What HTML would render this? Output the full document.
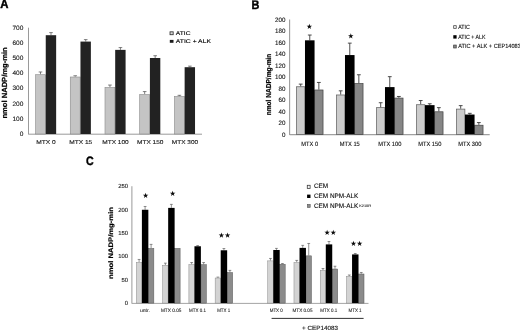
<!DOCTYPE html>
<html><head><meta charset="utf-8"><title>Figure</title>
<style>
html,body{margin:0;padding:0;background:#fff;}
body{width:520px;height:330px;overflow:hidden;}
svg{display:block;}
svg text{font-family:"Liberation Sans",sans-serif;text-rendering:geometricPrecision;}
</style></head><body>
<svg width="520" height="330" viewBox="0 0 520 330">
<defs><filter id="soft" x="0" y="0" width="520" height="330" filterUnits="userSpaceOnUse"><feGaussianBlur stdDeviation="0.38"/></filter></defs>
<rect x="0" y="0" width="520" height="330" fill="#ffffff"/>
<g filter="url(#soft)">
<rect x="0" y="0" width="520" height="330" fill="#ffffff"/>
<text transform="translate(0.20 8.40) scale(0.9157 1)" font-size="12.4" font-weight="bold" fill="#000" text-anchor="start" stroke="#000" stroke-width="0.45" stroke-linejoin="round">A</text>
<line x1="28.50" y1="27.70" x2="28.50" y2="134.40" stroke="#808080" stroke-width="0.8"/>
<line x1="28.50" y1="134.20" x2="202.00" y2="134.20" stroke="#808080" stroke-width="0.8"/>
<text transform="translate(23.40 136.07) scale(1.0400 1)" font-size="6.3" font-weight="normal" fill="#1a1a1a" text-anchor="end" stroke="#1a1a1a" stroke-width="0.12" stroke-linejoin="round">0</text>
<text transform="translate(23.40 120.87) scale(1.0400 1)" font-size="6.3" font-weight="normal" fill="#1a1a1a" text-anchor="end" stroke="#1a1a1a" stroke-width="0.12" stroke-linejoin="round">100</text>
<text transform="translate(23.40 105.67) scale(1.0400 1)" font-size="6.3" font-weight="normal" fill="#1a1a1a" text-anchor="end" stroke="#1a1a1a" stroke-width="0.12" stroke-linejoin="round">200</text>
<text transform="translate(23.40 90.47) scale(1.0400 1)" font-size="6.3" font-weight="normal" fill="#1a1a1a" text-anchor="end" stroke="#1a1a1a" stroke-width="0.12" stroke-linejoin="round">300</text>
<text transform="translate(23.40 75.27) scale(1.0400 1)" font-size="6.3" font-weight="normal" fill="#1a1a1a" text-anchor="end" stroke="#1a1a1a" stroke-width="0.12" stroke-linejoin="round">400</text>
<text transform="translate(23.40 60.07) scale(1.0400 1)" font-size="6.3" font-weight="normal" fill="#1a1a1a" text-anchor="end" stroke="#1a1a1a" stroke-width="0.12" stroke-linejoin="round">500</text>
<text transform="translate(23.40 44.87) scale(1.0400 1)" font-size="6.3" font-weight="normal" fill="#1a1a1a" text-anchor="end" stroke="#1a1a1a" stroke-width="0.12" stroke-linejoin="round">600</text>
<text transform="translate(23.40 29.67) scale(1.0400 1)" font-size="6.3" font-weight="normal" fill="#1a1a1a" text-anchor="end" stroke="#1a1a1a" stroke-width="0.12" stroke-linejoin="round">700</text>
<line x1="40.50" y1="74.42" x2="40.50" y2="71.98" stroke="#4a4a4a" stroke-width="0.7"/>
<line x1="38.70" y1="71.98" x2="42.30" y2="71.98" stroke="#4a4a4a" stroke-width="0.7"/>
<line x1="51.00" y1="35.20" x2="51.00" y2="32.62" stroke="#4a4a4a" stroke-width="0.7"/>
<line x1="49.20" y1="32.62" x2="52.80" y2="32.62" stroke="#4a4a4a" stroke-width="0.7"/>
<rect x="35.55" y="74.72" width="9.90" height="59.28" fill="#c4c4c4" stroke="#8a8a8a" stroke-width="0.6"/>
<rect x="45.75" y="35.20" width="10.40" height="98.80" fill="#232323"/>
<text transform="translate(46.06 143.83) scale(1.1824 1)" font-size="5.6" font-weight="normal" fill="#1a1a1a" text-anchor="middle" stroke="#1a1a1a" stroke-width="0.12" stroke-linejoin="round">MTX 0</text>
<line x1="75.22" y1="76.70" x2="75.22" y2="75.78" stroke="#4a4a4a" stroke-width="0.7"/>
<line x1="73.42" y1="75.78" x2="77.02" y2="75.78" stroke="#4a4a4a" stroke-width="0.7"/>
<line x1="85.72" y1="41.58" x2="85.72" y2="39.61" stroke="#4a4a4a" stroke-width="0.7"/>
<line x1="83.92" y1="39.61" x2="87.52" y2="39.61" stroke="#4a4a4a" stroke-width="0.7"/>
<rect x="70.27" y="77.00" width="9.90" height="57.00" fill="#c4c4c4" stroke="#8a8a8a" stroke-width="0.6"/>
<rect x="80.47" y="41.58" width="10.40" height="92.42" fill="#232323"/>
<text transform="translate(80.78 143.83) scale(1.1731 1)" font-size="5.6" font-weight="normal" fill="#1a1a1a" text-anchor="middle" stroke="#1a1a1a" stroke-width="0.12" stroke-linejoin="round">MTX 15</text>
<line x1="109.94" y1="87.18" x2="109.94" y2="85.06" stroke="#4a4a4a" stroke-width="0.7"/>
<line x1="108.14" y1="85.06" x2="111.74" y2="85.06" stroke="#4a4a4a" stroke-width="0.7"/>
<line x1="120.44" y1="49.87" x2="120.44" y2="47.59" stroke="#4a4a4a" stroke-width="0.7"/>
<line x1="118.64" y1="47.59" x2="122.24" y2="47.59" stroke="#4a4a4a" stroke-width="0.7"/>
<rect x="104.99" y="87.48" width="9.90" height="46.52" fill="#c4c4c4" stroke="#8a8a8a" stroke-width="0.6"/>
<rect x="115.19" y="49.87" width="10.40" height="84.13" fill="#232323"/>
<text transform="translate(115.50 143.83) scale(1.1663 1)" font-size="5.6" font-weight="normal" fill="#1a1a1a" text-anchor="middle" stroke="#1a1a1a" stroke-width="0.12" stroke-linejoin="round">MTX 100</text>
<line x1="144.66" y1="94.18" x2="144.66" y2="91.59" stroke="#4a4a4a" stroke-width="0.7"/>
<line x1="142.86" y1="91.59" x2="146.46" y2="91.59" stroke="#4a4a4a" stroke-width="0.7"/>
<line x1="155.16" y1="58.00" x2="155.16" y2="55.72" stroke="#4a4a4a" stroke-width="0.7"/>
<line x1="153.36" y1="55.72" x2="156.96" y2="55.72" stroke="#4a4a4a" stroke-width="0.7"/>
<rect x="139.71" y="94.48" width="9.90" height="39.52" fill="#c4c4c4" stroke="#8a8a8a" stroke-width="0.6"/>
<rect x="149.91" y="58.00" width="10.40" height="76.00" fill="#232323"/>
<text transform="translate(150.22 143.83) scale(1.1663 1)" font-size="5.6" font-weight="normal" fill="#1a1a1a" text-anchor="middle" stroke="#1a1a1a" stroke-width="0.12" stroke-linejoin="round">MTX 150</text>
<line x1="179.38" y1="96.23" x2="179.38" y2="95.32" stroke="#4a4a4a" stroke-width="0.7"/>
<line x1="177.58" y1="95.32" x2="181.18" y2="95.32" stroke="#4a4a4a" stroke-width="0.7"/>
<line x1="189.88" y1="67.20" x2="189.88" y2="66.13" stroke="#4a4a4a" stroke-width="0.7"/>
<line x1="188.08" y1="66.13" x2="191.68" y2="66.13" stroke="#4a4a4a" stroke-width="0.7"/>
<rect x="174.43" y="96.53" width="9.90" height="37.47" fill="#c4c4c4" stroke="#8a8a8a" stroke-width="0.6"/>
<rect x="184.63" y="67.20" width="10.40" height="66.80" fill="#232323"/>
<text transform="translate(184.94 143.83) scale(1.1575 1)" font-size="5.6" font-weight="normal" fill="#1a1a1a" text-anchor="middle" stroke="#1a1a1a" stroke-width="0.12" stroke-linejoin="round">MTX 300</text>
<text transform="translate(6.70 82.95) rotate(-90) scale(1.0262 1)" font-size="7.4" font-weight="bold" fill="#000" text-anchor="middle" stroke="#000" stroke-width="0.22" stroke-linejoin="round">nmol NADP/mg-min</text>
<rect x="170.03" y="31.82" width="3.15" height="2.88" fill="#d8d8d8" stroke="#333" stroke-width="0.85"/>
<text transform="translate(175.80 34.66) scale(1.2353 1)" font-size="5.4" font-weight="normal" fill="#000" text-anchor="start" stroke="#000" stroke-width="0.12" stroke-linejoin="round">ATIC</text>
<rect x="169.80" y="39.90" width="3.70" height="2.90" fill="#1c1c1c"/>
<text transform="translate(175.80 43.01) scale(1.2588 1)" font-size="5.4" font-weight="normal" fill="#000" text-anchor="start" stroke="#000" stroke-width="0.12" stroke-linejoin="round">ATIC + ALK</text>
<text transform="translate(251.50 8.60) scale(0.8751 1)" font-size="12.5" font-weight="bold" fill="#000" text-anchor="start" stroke="#000" stroke-width="0.4" stroke-linejoin="round">B</text>
<line x1="289.60" y1="19.40" x2="289.60" y2="135.10" stroke="#9c9c9c" stroke-width="1.1"/>
<line x1="289.60" y1="134.65" x2="489.70" y2="134.65" stroke="#a0a0a0" stroke-width="1.2"/>
<text transform="translate(285.45 136.54) scale(0.9550 1)" font-size="6.5" font-weight="normal" fill="#111" text-anchor="end" stroke="#111" stroke-width="0.12" stroke-linejoin="round">0</text>
<text transform="translate(285.45 125.06) scale(0.9550 1)" font-size="6.5" font-weight="normal" fill="#111" text-anchor="end" stroke="#111" stroke-width="0.12" stroke-linejoin="round">20</text>
<text transform="translate(285.45 113.58) scale(0.9550 1)" font-size="6.5" font-weight="normal" fill="#111" text-anchor="end" stroke="#111" stroke-width="0.12" stroke-linejoin="round">40</text>
<text transform="translate(285.45 102.10) scale(0.9550 1)" font-size="6.5" font-weight="normal" fill="#111" text-anchor="end" stroke="#111" stroke-width="0.12" stroke-linejoin="round">60</text>
<text transform="translate(285.45 90.62) scale(0.9550 1)" font-size="6.5" font-weight="normal" fill="#111" text-anchor="end" stroke="#111" stroke-width="0.12" stroke-linejoin="round">80</text>
<text transform="translate(285.45 79.14) scale(0.9550 1)" font-size="6.5" font-weight="normal" fill="#111" text-anchor="end" stroke="#111" stroke-width="0.12" stroke-linejoin="round">100</text>
<text transform="translate(285.45 67.66) scale(0.9550 1)" font-size="6.5" font-weight="normal" fill="#111" text-anchor="end" stroke="#111" stroke-width="0.12" stroke-linejoin="round">120</text>
<text transform="translate(285.45 56.18) scale(0.9550 1)" font-size="6.5" font-weight="normal" fill="#111" text-anchor="end" stroke="#111" stroke-width="0.12" stroke-linejoin="round">140</text>
<text transform="translate(285.45 44.70) scale(0.9550 1)" font-size="6.5" font-weight="normal" fill="#111" text-anchor="end" stroke="#111" stroke-width="0.12" stroke-linejoin="round">160</text>
<text transform="translate(285.45 33.22) scale(0.9550 1)" font-size="6.5" font-weight="normal" fill="#111" text-anchor="end" stroke="#111" stroke-width="0.12" stroke-linejoin="round">180</text>
<text transform="translate(285.45 21.74) scale(0.9550 1)" font-size="6.5" font-weight="normal" fill="#111" text-anchor="end" stroke="#111" stroke-width="0.12" stroke-linejoin="round">200</text>
<line x1="300.69" y1="86.41" x2="300.69" y2="84.12" stroke="#3a3a3a" stroke-width="0.9"/>
<line x1="298.79" y1="84.12" x2="302.59" y2="84.12" stroke="#3a3a3a" stroke-width="0.9"/>
<line x1="309.77" y1="40.32" x2="309.77" y2="35.04" stroke="#3a3a3a" stroke-width="0.9"/>
<line x1="307.87" y1="35.04" x2="311.67" y2="35.04" stroke="#3a3a3a" stroke-width="0.9"/>
<line x1="318.85" y1="89.63" x2="318.85" y2="82.45" stroke="#3a3a3a" stroke-width="0.9"/>
<line x1="316.95" y1="82.45" x2="320.75" y2="82.45" stroke="#3a3a3a" stroke-width="0.9"/>
<rect x="296.50" y="86.76" width="8.38" height="47.64" fill="#cbcbcb" stroke="#5c5c5c" stroke-width="0.7"/>
<rect x="314.66" y="89.98" width="8.38" height="44.42" fill="#868686" stroke="#404040" stroke-width="0.7"/>
<rect x="304.98" y="40.32" width="9.58" height="94.08" fill="#000"/>
<text transform="translate(309.75 146.13) scale(0.9250 1)" font-size="6.2" font-weight="normal" fill="#111" text-anchor="middle" stroke="#111" stroke-width="0.12" stroke-linejoin="round">MTX 0</text>
<line x1="340.69" y1="94.62" x2="340.69" y2="90.83" stroke="#3a3a3a" stroke-width="0.9"/>
<line x1="338.79" y1="90.83" x2="342.59" y2="90.83" stroke="#3a3a3a" stroke-width="0.9"/>
<line x1="349.77" y1="55.07" x2="349.77" y2="43.13" stroke="#3a3a3a" stroke-width="0.9"/>
<line x1="347.87" y1="43.13" x2="351.67" y2="43.13" stroke="#3a3a3a" stroke-width="0.9"/>
<line x1="358.85" y1="83.26" x2="358.85" y2="74.76" stroke="#3a3a3a" stroke-width="0.9"/>
<line x1="356.95" y1="74.76" x2="360.75" y2="74.76" stroke="#3a3a3a" stroke-width="0.9"/>
<rect x="336.50" y="94.97" width="8.38" height="39.43" fill="#cbcbcb" stroke="#5c5c5c" stroke-width="0.7"/>
<rect x="354.66" y="83.61" width="8.38" height="50.79" fill="#868686" stroke="#404040" stroke-width="0.7"/>
<rect x="344.98" y="55.07" width="9.58" height="79.33" fill="#000"/>
<text transform="translate(349.75 146.13) scale(0.9250 1)" font-size="6.2" font-weight="normal" fill="#111" text-anchor="middle" stroke="#111" stroke-width="0.12" stroke-linejoin="round">MTX 15</text>
<line x1="380.69" y1="107.31" x2="380.69" y2="102.72" stroke="#3a3a3a" stroke-width="0.9"/>
<line x1="378.79" y1="102.72" x2="382.59" y2="102.72" stroke="#3a3a3a" stroke-width="0.9"/>
<line x1="389.77" y1="87.10" x2="389.77" y2="76.66" stroke="#3a3a3a" stroke-width="0.9"/>
<line x1="387.87" y1="76.66" x2="391.67" y2="76.66" stroke="#3a3a3a" stroke-width="0.9"/>
<line x1="398.85" y1="97.72" x2="398.85" y2="96.46" stroke="#3a3a3a" stroke-width="0.9"/>
<line x1="396.95" y1="96.46" x2="400.75" y2="96.46" stroke="#3a3a3a" stroke-width="0.9"/>
<rect x="376.50" y="107.66" width="8.38" height="26.74" fill="#cbcbcb" stroke="#5c5c5c" stroke-width="0.7"/>
<rect x="394.66" y="98.07" width="8.38" height="36.33" fill="#868686" stroke="#404040" stroke-width="0.7"/>
<rect x="384.98" y="87.10" width="9.58" height="47.30" fill="#000"/>
<text transform="translate(389.75 146.13) scale(0.9250 1)" font-size="6.2" font-weight="normal" fill="#111" text-anchor="middle" stroke="#111" stroke-width="0.12" stroke-linejoin="round">MTX 100</text>
<line x1="420.69" y1="104.38" x2="420.69" y2="100.53" stroke="#3a3a3a" stroke-width="0.9"/>
<line x1="418.79" y1="100.53" x2="422.59" y2="100.53" stroke="#3a3a3a" stroke-width="0.9"/>
<line x1="429.77" y1="105.13" x2="429.77" y2="103.75" stroke="#3a3a3a" stroke-width="0.9"/>
<line x1="427.87" y1="103.75" x2="431.67" y2="103.75" stroke="#3a3a3a" stroke-width="0.9"/>
<line x1="438.85" y1="111.44" x2="438.85" y2="107.65" stroke="#3a3a3a" stroke-width="0.9"/>
<line x1="436.95" y1="107.65" x2="440.75" y2="107.65" stroke="#3a3a3a" stroke-width="0.9"/>
<rect x="416.50" y="104.73" width="8.38" height="29.67" fill="#cbcbcb" stroke="#5c5c5c" stroke-width="0.7"/>
<rect x="434.66" y="111.79" width="8.38" height="22.61" fill="#868686" stroke="#404040" stroke-width="0.7"/>
<rect x="424.98" y="105.13" width="9.58" height="29.27" fill="#000"/>
<text transform="translate(429.75 146.13) scale(0.9250 1)" font-size="6.2" font-weight="normal" fill="#111" text-anchor="middle" stroke="#111" stroke-width="0.12" stroke-linejoin="round">MTX 150</text>
<line x1="460.69" y1="108.74" x2="460.69" y2="105.64" stroke="#3a3a3a" stroke-width="0.9"/>
<line x1="458.79" y1="105.64" x2="462.59" y2="105.64" stroke="#3a3a3a" stroke-width="0.9"/>
<line x1="469.77" y1="114.54" x2="469.77" y2="113.33" stroke="#3a3a3a" stroke-width="0.9"/>
<line x1="467.87" y1="113.33" x2="471.67" y2="113.33" stroke="#3a3a3a" stroke-width="0.9"/>
<line x1="478.85" y1="124.87" x2="478.85" y2="122.58" stroke="#3a3a3a" stroke-width="0.9"/>
<line x1="476.95" y1="122.58" x2="480.75" y2="122.58" stroke="#3a3a3a" stroke-width="0.9"/>
<rect x="456.50" y="109.09" width="8.38" height="25.31" fill="#cbcbcb" stroke="#5c5c5c" stroke-width="0.7"/>
<rect x="474.66" y="125.22" width="8.38" height="9.18" fill="#868686" stroke="#404040" stroke-width="0.7"/>
<rect x="464.98" y="114.54" width="9.58" height="19.86" fill="#000"/>
<text transform="translate(469.75 146.13) scale(0.9250 1)" font-size="6.2" font-weight="normal" fill="#111" text-anchor="middle" stroke="#111" stroke-width="0.12" stroke-linejoin="round">MTX 300</text>
<text transform="translate(270.55 84.50) rotate(-90) scale(0.9142 1)" font-size="7.2" font-weight="bold" fill="#000" text-anchor="middle" stroke="#000" stroke-width="0.2" stroke-linejoin="round">nmol NADP/mg-min</text>
<polygon points="309.35,23.75 310.01,25.69 312.06,25.72 310.42,26.95 311.03,28.91 309.35,27.72 307.67,28.91 308.28,26.95 306.64,25.72 308.69,25.69" fill="#0a0a0a"/>
<polygon points="350.80,33.35 351.46,35.29 353.51,35.32 351.87,36.55 352.48,38.51 350.80,37.32 349.12,38.51 349.73,36.55 348.09,35.32 350.14,35.29" fill="#0a0a0a"/>
<rect x="453.65" y="25.65" width="2.60" height="2.95" fill="#e0e0e0" stroke="#444" stroke-width="0.7"/>
<text transform="translate(458.20 28.96) scale(0.8750 1)" font-size="6.0" font-weight="normal" fill="#111" text-anchor="start" stroke="#111" stroke-width="0.12" stroke-linejoin="round">ATIC</text>
<rect x="453.30" y="35.20" width="3.30" height="3.40" fill="#000"/>
<text transform="translate(458.20 38.96) scale(0.8750 1)" font-size="6.0" font-weight="normal" fill="#111" text-anchor="start" stroke="#111" stroke-width="0.12" stroke-linejoin="round">ATIC + ALK</text>
<rect x="453.65" y="45.05" width="2.60" height="2.95" fill="#868686" stroke="#3c3c3c" stroke-width="0.7"/>
<text transform="translate(458.20 48.36) scale(0.9350 1)" font-size="6.0" font-weight="normal" fill="#111" text-anchor="start" stroke="#111" stroke-width="0.12" stroke-linejoin="round">ATIC + ALK + CEP14083</text>
<text transform="translate(85.90 165.10) scale(0.8739 1)" font-size="12.2" font-weight="bold" fill="#000" text-anchor="start" stroke="#000" stroke-width="0.4" stroke-linejoin="round">C</text>
<line x1="131.90" y1="186.23" x2="131.90" y2="303.60" stroke="#9a9a9a" stroke-width="1.0"/>
<line x1="131.90" y1="303.40" x2="368.50" y2="303.40" stroke="#9a9a9a" stroke-width="0.9"/>
<text transform="translate(128.10 305.03)" font-size="5.9" font-weight="normal" fill="#222" text-anchor="end" stroke="#222" stroke-width="0.12" stroke-linejoin="round">0</text>
<text transform="translate(128.10 281.69)" font-size="5.9" font-weight="normal" fill="#222" text-anchor="end" stroke="#222" stroke-width="0.12" stroke-linejoin="round">50</text>
<text transform="translate(128.10 258.36)" font-size="5.9" font-weight="normal" fill="#222" text-anchor="end" stroke="#222" stroke-width="0.12" stroke-linejoin="round">100</text>
<text transform="translate(128.10 235.02)" font-size="5.9" font-weight="normal" fill="#222" text-anchor="end" stroke="#222" stroke-width="0.12" stroke-linejoin="round">150</text>
<text transform="translate(128.10 211.69)" font-size="5.9" font-weight="normal" fill="#222" text-anchor="end" stroke="#222" stroke-width="0.12" stroke-linejoin="round">200</text>
<text transform="translate(128.10 188.35)" font-size="5.9" font-weight="normal" fill="#222" text-anchor="end" stroke="#222" stroke-width="0.12" stroke-linejoin="round">250</text>
<line x1="139.10" y1="262.26" x2="139.10" y2="259.46" stroke="#4a4a4a" stroke-width="0.6"/>
<line x1="137.70" y1="259.46" x2="140.50" y2="259.46" stroke="#4a4a4a" stroke-width="0.6"/>
<line x1="145.10" y1="209.76" x2="145.10" y2="206.49" stroke="#4a4a4a" stroke-width="0.6"/>
<line x1="143.70" y1="206.49" x2="146.50" y2="206.49" stroke="#4a4a4a" stroke-width="0.6"/>
<line x1="151.10" y1="248.12" x2="151.10" y2="244.39" stroke="#4a4a4a" stroke-width="0.6"/>
<line x1="149.70" y1="244.39" x2="152.50" y2="244.39" stroke="#4a4a4a" stroke-width="0.6"/>
<rect x="136.35" y="262.51" width="5.50" height="40.59" fill="#d3d3d3" stroke="#8a8a8a" stroke-width="0.5"/>
<rect x="148.35" y="248.37" width="5.50" height="54.73" fill="#8b8b8b" stroke="#5a5a5a" stroke-width="0.5"/>
<rect x="141.90" y="209.76" width="6.45" height="93.34" fill="#000"/>
<text transform="translate(144.88 312.09) scale(1.0383 1)" font-size="4.9" font-weight="normal" fill="#111" text-anchor="middle" stroke="#111" stroke-width="0.07" stroke-linejoin="round">untr.</text>
<line x1="165.37" y1="265.02" x2="165.37" y2="263.15" stroke="#4a4a4a" stroke-width="0.6"/>
<line x1="163.97" y1="263.15" x2="166.77" y2="263.15" stroke="#4a4a4a" stroke-width="0.6"/>
<line x1="171.37" y1="207.89" x2="171.37" y2="204.39" stroke="#4a4a4a" stroke-width="0.6"/>
<line x1="169.97" y1="204.39" x2="172.77" y2="204.39" stroke="#4a4a4a" stroke-width="0.6"/>
<rect x="162.62" y="265.27" width="5.50" height="37.83" fill="#d3d3d3" stroke="#8a8a8a" stroke-width="0.5"/>
<rect x="174.62" y="248.37" width="5.50" height="54.73" fill="#8b8b8b" stroke="#5a5a5a" stroke-width="0.5"/>
<rect x="168.17" y="207.89" width="6.45" height="95.21" fill="#000"/>
<text transform="translate(171.16 312.09) scale(0.9651 1)" font-size="4.9" font-weight="normal" fill="#111" text-anchor="middle" stroke="#111" stroke-width="0.07" stroke-linejoin="round">MTX 0.05</text>
<line x1="191.64" y1="264.41" x2="191.64" y2="262.54" stroke="#4a4a4a" stroke-width="0.6"/>
<line x1="190.24" y1="262.54" x2="193.04" y2="262.54" stroke="#4a4a4a" stroke-width="0.6"/>
<line x1="197.64" y1="246.26" x2="197.64" y2="245.60" stroke="#4a4a4a" stroke-width="0.6"/>
<line x1="196.24" y1="245.60" x2="199.04" y2="245.60" stroke="#4a4a4a" stroke-width="0.6"/>
<line x1="203.64" y1="264.41" x2="203.64" y2="262.54" stroke="#4a4a4a" stroke-width="0.6"/>
<line x1="202.24" y1="262.54" x2="205.04" y2="262.54" stroke="#4a4a4a" stroke-width="0.6"/>
<rect x="188.89" y="264.66" width="5.50" height="38.44" fill="#d3d3d3" stroke="#8a8a8a" stroke-width="0.5"/>
<rect x="200.89" y="264.66" width="5.50" height="38.44" fill="#8b8b8b" stroke="#5a5a5a" stroke-width="0.5"/>
<rect x="194.44" y="246.26" width="6.45" height="56.84" fill="#000"/>
<text transform="translate(197.42 312.09) scale(0.9127 1)" font-size="4.9" font-weight="normal" fill="#111" text-anchor="middle" stroke="#111" stroke-width="0.07" stroke-linejoin="round">MTX 0.1</text>
<line x1="217.91" y1="277.76" x2="217.91" y2="277.10" stroke="#4a4a4a" stroke-width="0.6"/>
<line x1="216.51" y1="277.10" x2="219.31" y2="277.10" stroke="#4a4a4a" stroke-width="0.6"/>
<line x1="223.91" y1="250.27" x2="223.91" y2="248.54" stroke="#4a4a4a" stroke-width="0.6"/>
<line x1="222.51" y1="248.54" x2="225.31" y2="248.54" stroke="#4a4a4a" stroke-width="0.6"/>
<line x1="229.91" y1="272.25" x2="229.91" y2="270.38" stroke="#4a4a4a" stroke-width="0.6"/>
<line x1="228.51" y1="270.38" x2="231.31" y2="270.38" stroke="#4a4a4a" stroke-width="0.6"/>
<rect x="215.16" y="278.01" width="5.50" height="25.09" fill="#d3d3d3" stroke="#8a8a8a" stroke-width="0.5"/>
<rect x="227.16" y="272.50" width="5.50" height="30.60" fill="#8b8b8b" stroke="#5a5a5a" stroke-width="0.5"/>
<rect x="220.71" y="250.27" width="6.45" height="52.83" fill="#000"/>
<text transform="translate(223.69 312.09) scale(0.9009 1)" font-size="4.9" font-weight="normal" fill="#111" text-anchor="middle" stroke="#111" stroke-width="0.07" stroke-linejoin="round">MTX 1</text>
<line x1="270.45" y1="260.63" x2="270.45" y2="258.44" stroke="#4a4a4a" stroke-width="0.6"/>
<line x1="269.05" y1="258.44" x2="271.85" y2="258.44" stroke="#4a4a4a" stroke-width="0.6"/>
<line x1="276.45" y1="249.99" x2="276.45" y2="248.40" stroke="#4a4a4a" stroke-width="0.6"/>
<line x1="275.05" y1="248.40" x2="277.85" y2="248.40" stroke="#4a4a4a" stroke-width="0.6"/>
<line x1="282.45" y1="263.99" x2="282.45" y2="263.52" stroke="#4a4a4a" stroke-width="0.6"/>
<line x1="281.05" y1="263.52" x2="283.85" y2="263.52" stroke="#4a4a4a" stroke-width="0.6"/>
<rect x="267.70" y="260.88" width="5.50" height="42.22" fill="#d3d3d3" stroke="#8a8a8a" stroke-width="0.5"/>
<rect x="279.70" y="264.24" width="5.50" height="38.86" fill="#8b8b8b" stroke="#5a5a5a" stroke-width="0.5"/>
<rect x="273.25" y="249.99" width="6.45" height="53.11" fill="#000"/>
<text transform="translate(276.24 312.09) scale(0.9078 1)" font-size="4.9" font-weight="normal" fill="#111" text-anchor="middle" stroke="#111" stroke-width="0.07" stroke-linejoin="round">MTX 0</text>
<line x1="296.72" y1="262.26" x2="296.72" y2="260.40" stroke="#4a4a4a" stroke-width="0.6"/>
<line x1="295.32" y1="260.40" x2="298.12" y2="260.40" stroke="#4a4a4a" stroke-width="0.6"/>
<line x1="302.72" y1="247.89" x2="302.72" y2="245.37" stroke="#4a4a4a" stroke-width="0.6"/>
<line x1="301.32" y1="245.37" x2="304.12" y2="245.37" stroke="#4a4a4a" stroke-width="0.6"/>
<line x1="308.72" y1="255.59" x2="308.72" y2="243.46" stroke="#4a4a4a" stroke-width="0.6"/>
<line x1="307.32" y1="243.46" x2="310.12" y2="243.46" stroke="#4a4a4a" stroke-width="0.6"/>
<rect x="293.97" y="262.51" width="5.50" height="40.59" fill="#d3d3d3" stroke="#8a8a8a" stroke-width="0.5"/>
<rect x="305.97" y="255.84" width="5.50" height="47.26" fill="#8b8b8b" stroke="#5a5a5a" stroke-width="0.5"/>
<rect x="299.52" y="247.89" width="6.45" height="55.21" fill="#000"/>
<text transform="translate(302.50 312.09) scale(0.9415 1)" font-size="4.9" font-weight="normal" fill="#111" text-anchor="middle" stroke="#111" stroke-width="0.07" stroke-linejoin="round">MTX 0.05</text>
<line x1="322.99" y1="270.01" x2="322.99" y2="268.52" stroke="#4a4a4a" stroke-width="0.6"/>
<line x1="321.59" y1="268.52" x2="324.39" y2="268.52" stroke="#4a4a4a" stroke-width="0.6"/>
<line x1="328.99" y1="244.39" x2="328.99" y2="241.50" stroke="#4a4a4a" stroke-width="0.6"/>
<line x1="327.59" y1="241.50" x2="330.39" y2="241.50" stroke="#4a4a4a" stroke-width="0.6"/>
<line x1="334.99" y1="268.75" x2="334.99" y2="266.23" stroke="#4a4a4a" stroke-width="0.6"/>
<line x1="333.59" y1="266.23" x2="336.39" y2="266.23" stroke="#4a4a4a" stroke-width="0.6"/>
<rect x="320.24" y="270.26" width="5.50" height="32.84" fill="#d3d3d3" stroke="#8a8a8a" stroke-width="0.5"/>
<rect x="332.24" y="269.00" width="5.50" height="34.10" fill="#8b8b8b" stroke="#5a5a5a" stroke-width="0.5"/>
<rect x="325.79" y="244.39" width="6.45" height="58.71" fill="#000"/>
<text transform="translate(328.78 312.09) scale(0.9127 1)" font-size="4.9" font-weight="normal" fill="#111" text-anchor="middle" stroke="#111" stroke-width="0.07" stroke-linejoin="round">MTX 0.1</text>
<line x1="349.26" y1="276.26" x2="349.26" y2="275.00" stroke="#4a4a4a" stroke-width="0.6"/>
<line x1="347.86" y1="275.00" x2="350.66" y2="275.00" stroke="#4a4a4a" stroke-width="0.6"/>
<line x1="355.26" y1="254.42" x2="355.26" y2="253.49" stroke="#4a4a4a" stroke-width="0.6"/>
<line x1="353.86" y1="253.49" x2="356.66" y2="253.49" stroke="#4a4a4a" stroke-width="0.6"/>
<line x1="361.26" y1="273.74" x2="361.26" y2="272.48" stroke="#4a4a4a" stroke-width="0.6"/>
<line x1="359.86" y1="272.48" x2="362.66" y2="272.48" stroke="#4a4a4a" stroke-width="0.6"/>
<rect x="346.51" y="276.51" width="5.50" height="26.59" fill="#d3d3d3" stroke="#8a8a8a" stroke-width="0.5"/>
<rect x="358.51" y="273.99" width="5.50" height="29.11" fill="#8b8b8b" stroke="#5a5a5a" stroke-width="0.5"/>
<rect x="352.06" y="254.42" width="6.45" height="48.68" fill="#000"/>
<text transform="translate(355.05 312.09) scale(0.9078 1)" font-size="4.9" font-weight="normal" fill="#111" text-anchor="middle" stroke="#111" stroke-width="0.07" stroke-linejoin="round">MTX 1</text>
<text transform="translate(112.80 243.00) rotate(-90) scale(1.1619 1)" font-size="6.6" font-weight="bold" fill="#000" text-anchor="middle" stroke="#000" stroke-width="0.2" stroke-linejoin="round">nmol NADP/mg-min</text>
<polygon points="145.60,192.75 146.26,194.74 148.36,194.75 146.67,196.00 147.30,198.00 145.60,196.77 143.90,198.00 144.53,196.00 142.84,194.75 144.94,194.74" fill="#0a0a0a"/>
<polygon points="172.65,190.85 173.31,192.84 175.41,192.85 173.72,194.10 174.35,196.10 172.65,194.87 170.95,196.10 171.58,194.10 169.89,192.85 171.99,192.84" fill="#0a0a0a"/>
<polygon points="221.43,232.60 222.08,234.59 224.18,234.60 222.49,235.85 223.13,237.85 221.43,236.62 219.72,237.85 220.36,235.85 218.67,234.60 220.77,234.59" fill="#0a0a0a"/>
<polygon points="227.58,232.60 228.23,234.59 230.33,234.60 228.64,235.85 229.28,237.85 227.58,236.62 225.87,237.85 226.51,235.85 224.82,234.60 226.92,234.59" fill="#0a0a0a"/>
<polygon points="327.12,229.70 327.78,231.69 329.88,231.70 328.19,232.95 328.83,234.95 327.12,233.72 325.42,234.95 326.06,232.95 324.37,231.70 326.47,231.69" fill="#0a0a0a"/>
<polygon points="333.27,229.70 333.93,231.69 336.03,231.70 334.34,232.95 334.98,234.95 333.27,233.72 331.57,234.95 332.21,232.95 330.52,231.70 332.62,231.69" fill="#0a0a0a"/>
<polygon points="353.48,240.85 354.13,242.84 356.23,242.85 354.54,244.10 355.18,246.10 353.48,244.87 351.77,246.10 352.41,244.10 350.72,242.85 352.82,242.84" fill="#0a0a0a"/>
<polygon points="359.62,240.85 360.28,242.84 362.38,242.85 360.69,244.10 361.33,246.10 359.62,244.87 357.92,246.10 358.56,244.10 356.87,242.85 358.97,242.84" fill="#0a0a0a"/>
<rect x="307.27" y="185.28" width="2.85" height="3.12" fill="#f4f4f4" stroke="#333" stroke-width="0.75"/>
<text transform="translate(313.90 188.35)" font-size="6.4" font-weight="normal" fill="#111" text-anchor="start" stroke="#111" stroke-width="0.12" stroke-linejoin="round">CEM</text>
<rect x="307.10" y="194.60" width="3.40" height="3.40" fill="#000"/>
<text transform="translate(313.90 198.35)" font-size="6.4" font-weight="normal" fill="#111" text-anchor="start" stroke="#111" stroke-width="0.12" stroke-linejoin="round">CEM NPM-ALK</text>
<rect x="307.40" y="204.40" width="2.80" height="3.10" fill="#8b8b8b" stroke="#555" stroke-width="0.6"/>
<text transform="translate(313.90 208.05)" font-size="6.4" font-weight="normal" fill="#111" text-anchor="start" stroke="#111" stroke-width="0.12" stroke-linejoin="round">CEM NPM-ALK</text>
<text transform="translate(359.20 206.60) scale(1.0720 1)" font-size="3.6" font-weight="normal" fill="#111" text-anchor="start" stroke="#111" stroke-width="0.08" stroke-linejoin="round">K210R</text>
<line x1="271.60" y1="318.40" x2="363.60" y2="318.40" stroke="#1a1a1a" stroke-width="0.9"/>
<text transform="translate(320.00 329.60) scale(1.0327 1)" font-size="6.1" font-weight="normal" fill="#111" text-anchor="middle" stroke="#111" stroke-width="0.12" stroke-linejoin="round">+ CEP14083</text>
</g>
</svg>
</body></html>
